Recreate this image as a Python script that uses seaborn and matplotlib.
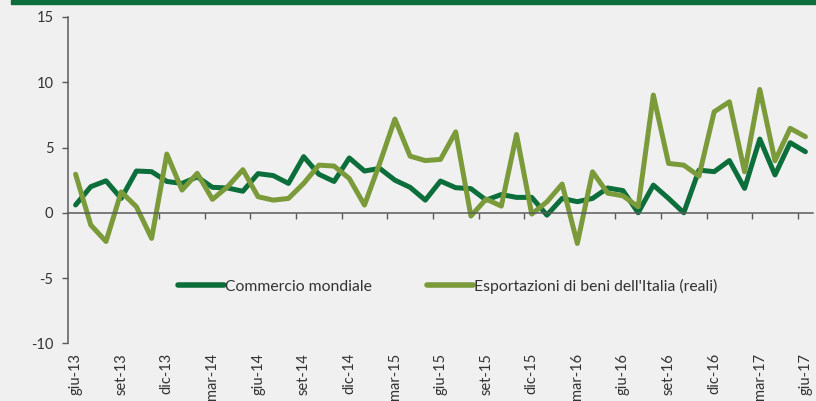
import numpy as np
import pandas as pd
import matplotlib
matplotlib.use("Agg")
import matplotlib.pyplot as plt
import seaborn as sns
from matplotlib.patches import Rectangle

# monthly data, giu-13 .. giu-17
months = ["giu", "lug", "ago", "set", "ott", "nov", "dic", "gen", "feb", "mar", "apr", "mag"]
labels_all = [f"{months[i % 12]}-{13 + (i + 5) // 12}" for i in range(49)]

commercio = [0.6, 2.0, 2.45, 1.1, 3.2, 3.15, 2.4, 2.25, 2.75, 1.95, 1.9, 1.65,
             3.0, 2.85, 2.25, 4.3, 2.95, 2.4, 4.2, 3.2, 3.4, 2.5, 1.95, 0.97,
             2.43, 1.92, 1.85, 0.97, 1.4, 1.18, 1.18, -0.18, 1.1, 0.85, 1.1, 1.9,
             1.7, 0.0, 2.12, 1.1, 0.0, 3.27, 3.15, 4.0, 1.87, 5.65, 2.9, 5.37, 4.68]

esportazioni = [2.95, -0.94, -2.2, 1.6, 0.46, -1.96, 4.5, 1.74, 3.02, 1.03, 2.0, 3.3,
                1.23, 0.97, 1.1, 2.25, 3.65, 3.58, 2.63, 0.59, 3.78, 7.18, 4.34, 4.0,
                4.09, 6.2, -0.25, 1.05, 0.51, 6.0, -0.1, 0.84, 2.2, -2.35, 3.14, 1.5,
                1.3, 0.46, 9.02, 3.78, 3.65, 2.81, 7.74, 8.5, 3.14, 9.45, 3.98, 6.47, 5.83]

series_names = ["Commercio mondiale", "Esportazioni di beni dell'Italia (reali)"]
colors = ["#0b6e3b", "#7b9b3a"]

df = pd.DataFrame({
    "idx": np.tile(np.arange(49), 2),
    "value": commercio + esportazioni,
    "serie": np.repeat(series_names, 49),
})

sns.set_style("white")
plt.rcParams["font.family"] = ["Lato", "DejaVu Sans"]
plt.rcParams["axes.unicode_minus"] = False
bg = "#f0f0f0"
txt = "#333333"
axc = "#5a5a5a"

fig = plt.figure(figsize=(8.16, 4.01), dpi=100, facecolor=bg)
ax = fig.add_axes([68 / 816, 1 - 343.3 / 401, (813 - 68) / 816, (343.3 - 17) / 401])
ax.set_facecolor(bg)

sns.lineplot(data=df, x="idx", y="value", hue="serie", palette=colors,
             linewidth=3.6, ax=ax, legend=False)

ax.set_xlim(-0.5, 48.5)
ax.set_ylim(-10, 15)
ax.set_yticks([-10, -5, 0, 5, 10, 15])
ax.tick_params(axis="y", direction="out", length=4.5, width=1, color=axc,
               labelsize=10.5, labelcolor=txt, pad=6, left=True)
ax.set_xlabel("")
ax.set_ylabel("")

for s in ["top", "right"]:
    ax.spines[s].set_visible(False)
ax.spines["left"].set_color(axc)
ax.spines["left"].set_linewidth(1.1)
ax.spines["bottom"].set_position(("data", 0))
ax.spines["bottom"].set_color(axc)
ax.spines["bottom"].set_linewidth(1.1)

ax.set_xticks(np.arange(2.5, 48.5, 3))
ax.tick_params(axis="x", direction="out", length=4, width=1, color=axc,
               labelbottom=False, bottom=True)

sec = ax.secondary_xaxis("bottom")
sec.set_xticks(np.arange(0, 49, 3))
sec.set_xticklabels([labels_all[i] for i in range(0, 49, 3)], rotation=90,
                    va="top", ha="center")
sec.tick_params(length=0, labelsize=10.5, labelcolor=txt, pad=7)
sec.spines["bottom"].set_visible(False)

handles = [plt.Line2D([], [], color=c, linewidth=4) for c in colors]
ax.legend(handles, series_names, loc="center", bbox_to_anchor=(0.51, 0.175),
          ncol=2, frameon=False, handlelength=2.9, handletextpad=0.1,
          columnspacing=3.5, fontsize=11.3, labelcolor=txt)

fig.patches.append(Rectangle((11 / 816, 1 - 4 / 401), 1, 4 / 401,
                             transform=fig.transFigure, color="#0b6e3b",
                             zorder=5))

fig.savefig("out.png", dpi=100, facecolor=bg)
